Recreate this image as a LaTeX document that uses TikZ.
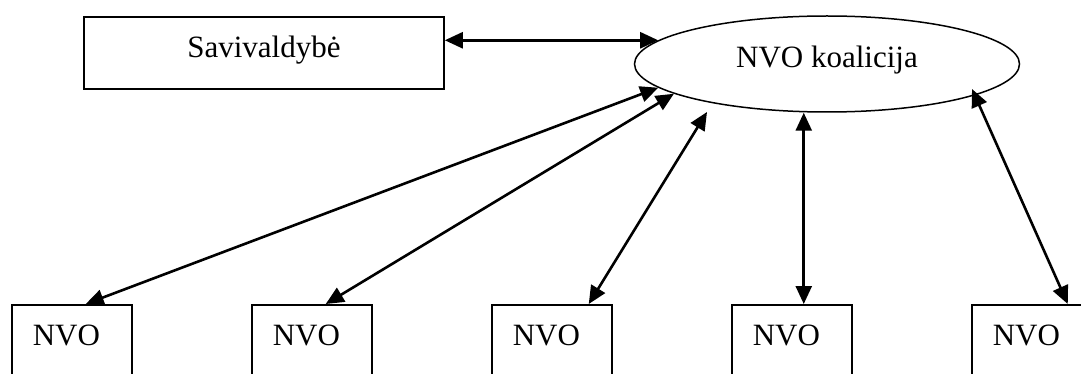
\documentclass[tikz,border=0pt]{standalone}
\usepackage{fontspec}
\setmainfont{Liberation Serif}
\usetikzlibrary{arrows.meta,shapes.geometric,calc}
\begin{document}
\begin{tikzpicture}[x=1pt,y=-1pt,
  every node/.style={font=\fontsize{31}{36}\selectfont},
  savbox/.style={draw, line width=1.8pt, rectangle, inner sep=0pt,
    minimum width=360pt, text height=41pt, text depth=31pt,
    align=center, anchor=north west},
  koalshape/.style={draw, ellipse, line width=1.5pt, inner sep=0pt,
    minimum width=385pt, minimum height=96pt, text height=16pt, text depth=8pt},
  nvobox/.style={draw, rectangle, line width=1.5pt, inner xsep=21pt, inner ysep=0pt,
    text width=78pt, align=left, text height=41pt, text depth=59pt,
    anchor=north west},
  arr/.style={{Triangle[length=18pt,width=16pt]}-{Triangle[length=18pt,width=16pt]},
    line width=2.6pt}
]
\useasboundingbox (0,0) rectangle (1081,374);
\clip (0,0) rectangle (1081,374);

\node[savbox] (sav) at (83,16) {Savivaldybė};
\node[koalshape] (koal) at (827,64) {NVO koalicija};

\node[nvobox] (n1) at (11,304) {NVO};
\node[nvobox] (n2) at (251,304) {NVO};
\node[nvobox] (n3) at (491,304) {NVO};
\node[nvobox] (n4) at (731,304) {NVO};
\node[nvobox] (n5) at (971,304) {NVO};

\coordinate (e3) at (707,112);
\coordinate (e5) at (972,89);
\coordinate (t4) at ([xshift=12pt]n4.north);

\draw[arr] (sav.east |- koal.172) -- (koal.172);
\draw[arr] (koal.188) -- ([xshift=14pt]n1.north);
\draw[arr] (koal.191) -- ([xshift=14pt]n2.north);
\draw[arr] (e3) -- ([xshift=37pt]n3.north);
\draw[arr] (koal.south -| t4) -- (t4);
\draw[arr] (e5) -- ([xshift=36pt]n5.north);
\end{tikzpicture}
\end{document}
